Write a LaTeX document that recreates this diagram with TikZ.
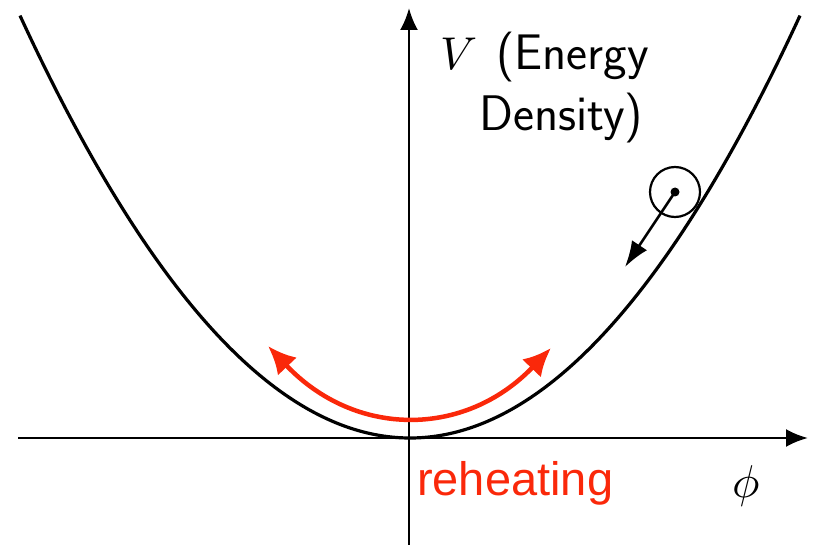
\documentclass[tikz,border=0pt]{standalone}
\usepackage{fontspec}
\newfontfamily\arialfont{Liberation Sans}
\usetikzlibrary{arrows.meta}
\definecolor{reheat}{RGB}{250,40,10}
\tikzset{
  axis/.style={line width=2.6pt, -{Latex[length=22pt,width=18pt]}},
  pot/.style={line width=3.2pt, black},
  swing/.style={line width=4.5pt, reheat, {Latex[length=28pt,width=26pt]}-{Latex[length=28pt,width=26pt]}},
  lbl/.style={inner sep=0pt, anchor=base west}
}
\begin{document}
\begin{tikzpicture}[x=1pt,y=-1pt]
\useasboundingbox (0,0) rectangle (817,545);
% axes
\coordinate (xs) at (18,438);
\coordinate (xe) at (808,438);
\coordinate (ys) at (409,545);
\coordinate (ye) at (409,8);
\draw[axis] (xs) -- (xe);
\draw[axis] (ys) -- (ye);
% potential
\draw[pot, domain=20:800, samples=120, smooth, variable=\t] plot ({\t},{438-0.00278*(\t-410)*(\t-410)});
% ball
\coordinate (bc) at (675,192);
\node[circle, draw, line width=2.2pt, minimum size=50pt, inner sep=0pt] (ball) at (bc) {};
\fill (bc) circle (4.5pt);
\coordinate (btip) at (625,267);
\draw[line width=2.6pt, -{Latex[length=26pt,width=18pt]}] (bc) -- (btip);
% reheating swing
\coordinate (sl) at (268,346);
\coordinate (sr) at (551,348);
\draw[swing] (sl) .. controls (355,438) and (465,438) .. (sr);
% labels
\node[lbl] (vlab) at (440,70) {\scalebox{4.6}{$V$}};
\node[lbl] (elab) at (496,70) {\fontsize{50}{54}\selectfont\sffamily(Energy};
\node[lbl] (dlab) at (479,131) {\fontsize{50}{54}\selectfont\sffamily Density)};
\node[lbl, text=reheat] (rlab) at (417,495) {\fontsize{47}{50}\selectfont\arialfont reheating};
\node[lbl] (phi) at (732,497) {\scalebox{4.6}{$\phi$}};
\end{tikzpicture}
\end{document}
